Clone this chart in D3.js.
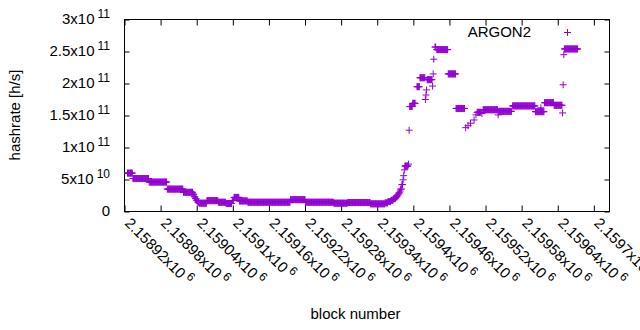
<!DOCTYPE html>
<html>
<head>
<meta charset="utf-8">
<script src="https://cdn.jsdelivr.net/npm/d3@7"></script>
<style>
  body { margin: 0; background: #fff; }
  svg { display: block; font-family: "Liberation Sans", Arial, sans-serif; }
</style>
</head>
<body>
<div id="chart"></div>
<script>
// runs of blocks with the same hashrate (from, to inclusive)
const runFrom = [
  2158925, 2158934, 2158961, 2158991, 2159018, 2159034, 2159036, 2159038, 2159040, 2159042,
  2159044, 2159057, 2159076, 2159089, 2159099, 2159102, 2159111, 2159125, 2159196, 2159221,
  2159268, 2159291, 2159329, 2159353, 2159358, 2159363, 2159367, 2159371, 2159374, 2159376,
  2159378, 2159379, 2159381, 2159383, 2159384, 2159385, 2159386, 2159392, 2159393,
  2159394, 2159399, 2159406, 2159411, 2159420, 2159421, 2159422, 2159423, 2159432, 2159433,
  2159434, 2159436, 2159439, 2159458, 2159471, 2159487, 2159491, 2159495, 2159501, 2159504,
  2159506, 2159514, 2159516, 2159541, 2159542, 2159565, 2159603, 2159612, 2159618, 2159634,
  2159648, 2159649, 2159650, 2159651
];
const runTo = [
  2158933, 2158960, 2158990, 2159017, 2159033, 2159035, 2159037, 2159039, 2159041, 2159043,
  2159056, 2159075, 2159088, 2159098, 2159101, 2159110, 2159124, 2159195, 2159220, 2159267,
  2159290, 2159328, 2159352, 2159357, 2159362, 2159366, 2159370, 2159373, 2159375, 2159377,
  2159378, 2159380, 2159382, 2159383, 2159384, 2159385, 2159391, 2159392, 2159393,
  2159398, 2159403, 2159410, 2159419, 2159420, 2159421, 2159422, 2159431, 2159432, 2159433,
  2159434, 2159437, 2159457, 2159470, 2159485, 2159487, 2159491, 2159495, 2159501, 2159504,
  2159512, 2159514, 2159540, 2159541, 2159563, 2159602, 2159617, 2159612, 2159633, 2159647,
  2159648, 2159649, 2159650, 2159673
];
const runRate = [
  6.0e10, 5.15e10, 4.6e10, 3.5e10, 3.0e10, 2.7e10, 2.3e10, 2.0e10, 1.7e10, 1.45e10,
  1.3e10, 1.7e10, 1.45e10, 1.25e10, 1.7e10, 2.2e10, 1.65e10, 1.45e10, 1.85e10, 1.45e10,
  1.3e10, 1.4e10, 1.2e10, 1.35e10, 1.55e10, 1.75e10, 2.0e10, 2.3e10, 2.6e10, 2.9e10,
  3.2e10, 3.5e10, 4.2e10, 4.95e10, 5.6e10, 6.5e10, 7.1e10, 7.4e10, 1.27e11,
  1.64e11, 1.69e11, 1.95e11, 2.09e11, 1.75e11, 1.82e11, 1.9e11, 2.06e11, 1.96e11, 2.15e11,
  2.38e11, 2.57e11, 2.53e11, 2.15e11, 1.61e11, 1.31e11, 1.34e11, 1.38e11, 1.43e11, 1.51e11,
  1.55e11, 1.53e11, 1.59e11, 1.51e11, 1.565e11, 1.65e11, 1.56e11, 1.62e11, 1.70e11, 1.66e11,
  1.54e11, 1.98e11, 2.45e11, 2.54e11
];

const xTicks = [2158920, 2158980, 2159040, 2159100, 2159160, 2159220, 2159280,
  2159340, 2159400, 2159460, 2159520, 2159580, 2159640, 2159700];
const xTickMant = ["2.15892", "2.15898", "2.15904", "2.1591", "2.15916", "2.15922", "2.15928",
  "2.15934", "2.1594", "2.15946", "2.15952", "2.15958", "2.15964", "2.1597"];
const xTickExp = "6";
const yTicks = [0, 5e10, 1e11, 1.5e11, 2e11, 2.5e11, 3e11];
const yTickMant = ["0", "5", "1", "1.5", "2", "2.5", "3"];
const yTickExp = ["", "10", "11", "11", "11", "11", "11"];
const xDomain = [2158920, 2159726];

const color = "#9400d3";
const margin = { top: 19, right: 31, bottom: 119, left: 124 };
const width = 640 - margin.left - margin.right;
const height = 330 - margin.top - margin.bottom;

const points = [];
runFrom.forEach((f, i) => {
  for (let b = f; b <= runTo[i]; b++) points.push({ block: b, rate: runRate[i] });
});

const svg = d3
  .select("#chart")
  .append("svg")
  .attr("width", 640)
  .attr("height", 330);

const container = svg
  .append("g")
  .attr("transform", `translate(${margin.left + 0.5}, ${margin.top + 0.5})`);

const xScale = d3.scaleLinear().domain(xDomain).range([0, width]);
const yScale = d3.scaleLinear().domain([0, 3e11]).range([height, 0]);

// inward ticks on all four sides, gnuplot style
const tickStyle = (g) => {
  g.select(".domain").remove();
  g.selectAll("text").remove();
  g.selectAll("line").attr("stroke", "#000");
};
container.append("g").attr("transform", `translate(0, ${height})`)
  .call(d3.axisBottom(xScale).tickValues(xTicks).tickSize(-6)).call(tickStyle);
container.append("g")
  .call(d3.axisTop(xScale).tickValues(xTicks).tickSize(-6)).call(tickStyle);
container.append("g")
  .call(d3.axisLeft(yScale).tickValues(yTicks).tickSize(-5)).call(tickStyle);
container.append("g").attr("transform", `translate(${width}, 0)`)
  .call(d3.axisRight(yScale).tickValues(yTicks).tickSize(-5)).call(tickStyle);

container.append("rect")
  .attr("width", width)
  .attr("height", height)
  .attr("fill", "none")
  .attr("stroke", "#000");

// y tick labels
const yLab = svg.append("g").attr("font-size", 15).attr("fill", "#000");
yTicks.forEach((v, i) => {
  const t = yLab.append("text")
    .attr("x", 110)
    .attr("y", margin.top + yScale(v) + 5)
    .attr("text-anchor", "end");
  t.append("tspan").text(yTickMant[i] + (yTickExp[i] ? "x10" : ""));
  if (yTickExp[i]) {
    t.append("tspan").attr("dx", 3).attr("dy", -6).attr("font-size", 12).text(yTickExp[i]);
  }
});

// x tick labels, rotated
const xLab = svg.append("g").attr("font-size", 15).attr("fill", "#000");
xTicks.forEach((v, i) => {
  const t = xLab.append("text")
    .attr("transform", `translate(${margin.left + xScale(v)}, 224) rotate(45)`);
  t.append("tspan").text(xTickMant[i] + "x10");
  t.append("tspan").attr("dx", 3).attr("dy", -6).attr("font-size", 12).text(xTickExp);
});

svg.append("text")
  .attr("transform", "translate(20, 115) rotate(-90)")
  .attr("text-anchor", "middle")
  .attr("font-size", 15)
  .text("hashrate [h/s]");

svg.append("text")
  .attr("x", 355.5)
  .attr("y", 319)
  .attr("text-anchor", "middle")
  .attr("font-size", 15)
  .text("block number");

const plus = "M-3.5,0H3.5M0,-3.5V3.5";

container.selectAll(".pt")
  .data(points)
  .enter()
  .append("path")
  .attr("class", "pt")
  .attr("d", plus)
  .attr("transform", (d) => `translate(${xScale(d.block)}, ${yScale(d.rate)})`)
  .attr("fill", "none")
  .attr("stroke", color)
  .attr("stroke-width", 1);

// key
svg.append("text")
  .attr("x", 531)
  .attr("y", 36.5)
  .attr("text-anchor", "end")
  .attr("font-size", 15)
  .text("ARGON2");
svg.append("path")
  .attr("d", plus)
  .attr("transform", "translate(567.5, 32.5)")
  .attr("fill", "none")
  .attr("stroke", color);
</script>
</body>
</html>
